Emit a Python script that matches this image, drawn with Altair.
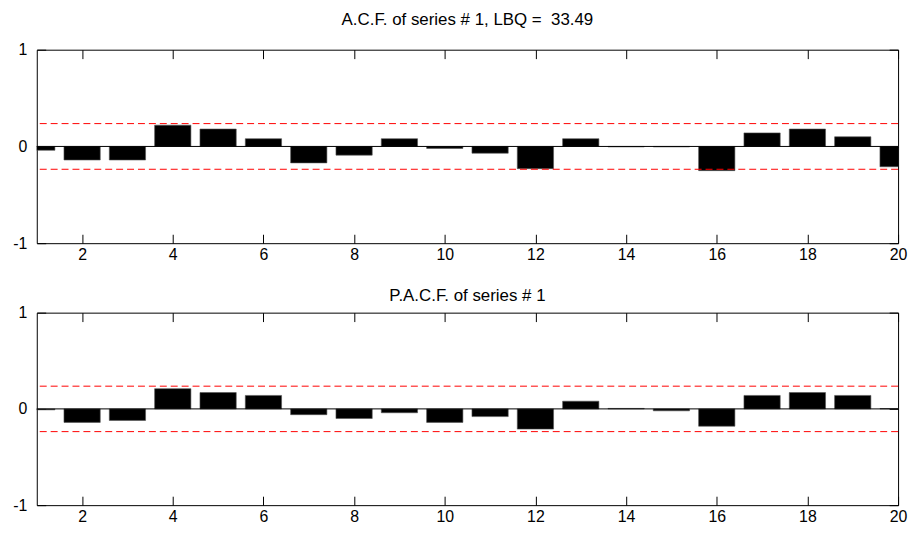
import altair as alt
import pandas as pd

lags = list(range(1, 21))
acf_values = [-0.04, -0.14, -0.14, 0.22, 0.18, 0.08, -0.17, -0.09, 0.08, -0.02,
              -0.07, -0.23, 0.08, -0.005, -0.005, -0.25, 0.14, 0.18, 0.10, -0.21]
pacf_values = [-0.01, -0.14, -0.12, 0.21, 0.17, 0.14, -0.06, -0.10, -0.04, -0.14,
               -0.08, -0.21, 0.08, 0.005, -0.02, -0.18, 0.14, 0.17, 0.14, 0.003]
conf_bound = 0.236
x_ticks = [2, 4, 6, 8, 10, 12, 14, 16, 18, 20]
y_ticks = [-1, 0, 1]
titles = ["A.C.F. of series # 1, LBQ =\u00a0 33.49", "P.A.C.F. of series # 1"]

FONT = "Liberation Sans"
W = 868
TL = 9
LFS = 16

xscale = alt.Scale(domain=[1, 20], nice=False, zero=False)
yscale = alt.Scale(domain=[-1, 1], nice=False, zero=False)


def panel(values, title, h, title_offset):
    df = pd.DataFrame({"lag": lags, "value": values})
    base = alt.Chart(df)
    bars = base.mark_bar(clip=True, color="black", stroke="#555555", strokeWidth=0.6).transform_calculate(
        lo="datum.lag - 0.4", hi="datum.lag + 0.4", zero="0"
    ).encode(
        x=alt.X("lo:Q", scale=xscale, axis=None),
        x2="hi:Q",
        y=alt.Y("value:Q", scale=yscale, axis=None),
        y2="zero:Q",
    )
    bdf = pd.DataFrame({"b": [conf_bound, -conf_bound]})
    bounds = alt.Chart(bdf).mark_rule(color="#ff0000", strokeDash=[7, 4], strokeWidth=1).encode(
        y=alt.Y("b:Q", scale=yscale, axis=None)
    )
    zdf = pd.DataFrame({"z": [0]})
    zero_line = alt.Chart(zdf).mark_rule(color="black", strokeWidth=1).encode(
        y=alt.Y("z:Q", scale=yscale, axis=None)
    )
    axes_bl = base.mark_point(opacity=0).encode(
        x=alt.X("lag:Q", scale=xscale, title=None,
                axis=alt.Axis(orient="bottom", values=x_ticks, offset=-TL, tickSize=TL,
                              domain=False, grid=False, labelPadding=3,
                              labelExpr="toString(datum.value)", labelFlush=False,
                              labelFont=FONT, labelFontSize=LFS, labelColor="black",
                              tickColor="black", labelOverlap=False)),
        y=alt.Y("value:Q", scale=yscale, title=None,
                axis=alt.Axis(orient="left", values=y_ticks, offset=-TL, tickSize=TL,
                              domain=False, grid=False, labelPadding=10,
                              labelExpr="toString(datum.value)",
                              labelFont=FONT, labelFontSize=LFS, labelColor="black",
                              tickColor="black", labelOverlap=False, labelFlush=False)),
    )
    axes_tr = base.mark_point(opacity=0).encode(
        x=alt.X("lag:Q", scale=xscale, title=None,
                axis=alt.Axis(orient="top", values=x_ticks, offset=-TL, tickSize=TL,
                              domain=False, grid=False, labels=False, tickColor="black")),
        y=alt.Y("value:Q", scale=yscale, title=None,
                axis=alt.Axis(orient="right", values=y_ticks, offset=-TL, tickSize=TL,
                              domain=False, grid=False, labels=False, tickColor="black")),
    )
    return alt.layer(bars, bounds, zero_line, axes_bl, axes_tr).resolve_axis(
        x="independent", y="independent"
    ).properties(
        width=W, height=h,
        title=alt.Title(title, font=FONT, fontSize=17, fontWeight="normal",
                        offset=title_offset, color="black"),
    )


top = panel(acf_values, titles[0], 195, 13)
bottom = panel(pacf_values, titles[1], 194, 0)

chart = alt.vconcat(top, bottom, spacing=23, background="white",
                    padding={"left": 4, "top": 0, "right": 0, "bottom": 0}).configure_view(
    stroke="black", strokeWidth=1
)

chart.save("out.html", embed_options={"renderer": "svg", "actions": False})
